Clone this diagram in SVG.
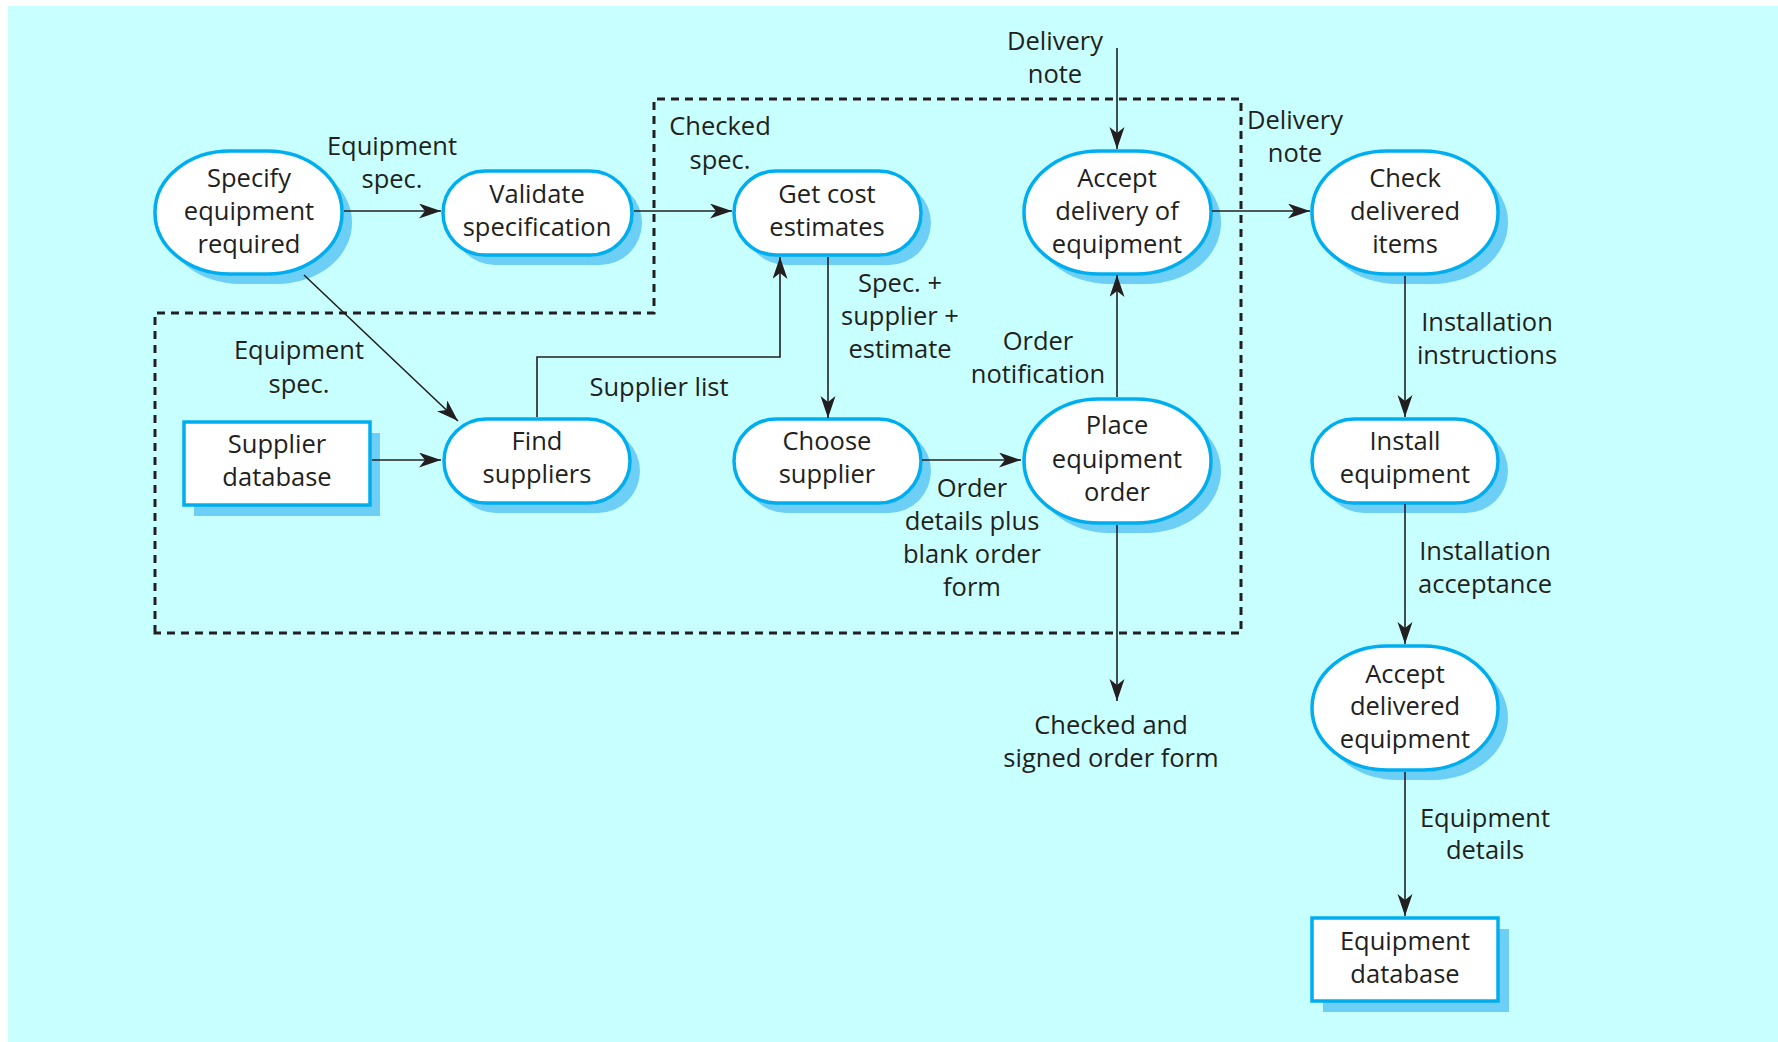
<svg xmlns="http://www.w3.org/2000/svg" width="1778" height="1042" viewBox="0 0 1778 1042">
<defs>
<style>
.bg{fill:#C8FFFF}
.sh{fill:#6DCFF6}
.nd{fill:#FFFFFF;stroke:#00AEEF;stroke-width:3.5}
.t{font-family:"Open Sans","Noto Sans",sans-serif;font-size:25.5px;fill:#231F20;text-anchor:middle}
.c{fill:none;stroke:#231F20;stroke-width:1.6}
.dash{fill:none;stroke:#231F20;stroke-width:3;stroke-dasharray:8 6}
</style>
<marker id="ah" markerUnits="userSpaceOnUse" markerWidth="24" markerHeight="16" refX="22" refY="7.5" orient="auto">
<path d="M0,0 L22,7.5 L0,15 L6,7.5 z" fill="#231F20"/>
</marker>
</defs>
<rect class="bg" x="8" y="6" width="1770" height="1036"/>

<g id="boundary">
<path class="dash" d="M155,633 L155,313 L654,313 L654,99 L1241,99 L1241,633 Z"/>
</g>

<g id="labels">
<text class="t" x="392" y="155">Equipment</text>
<text class="t" x="392" y="188">spec.</text>
<text class="t" x="720" y="135">Checked</text>
<text class="t" x="720" y="169">spec.</text>
<text class="t" x="299" y="359">Equipment</text>
<text class="t" x="299" y="393">spec.</text>
<text class="t" x="659" y="396">Supplier list</text>
<text class="t" x="900" y="292">Spec. +</text>
<text class="t" x="900" y="325">supplier +</text>
<text class="t" x="900" y="358">estimate</text>
<text class="t" x="972" y="497">Order</text>
<text class="t" x="972" y="530">details plus</text>
<text class="t" x="972" y="563">blank order</text>
<text class="t" x="972" y="596">form</text>
<text class="t" x="1038" y="350">Order</text>
<text class="t" x="1038" y="383">notification</text>
<text class="t" x="1055" y="50">Delivery</text>
<text class="t" x="1055" y="83">note</text>
<text class="t" x="1295" y="129">Delivery</text>
<text class="t" x="1295" y="162">note</text>
<text class="t" x="1487" y="331">Installation</text>
<text class="t" x="1487" y="364">instructions</text>
<text class="t" x="1485" y="560">Installation</text>
<text class="t" x="1485" y="593">acceptance</text>
<text class="t" x="1485" y="827">Equipment</text>
<text class="t" x="1485" y="859">details</text>
<text class="t" x="1111" y="734">Checked and</text>
<text class="t" x="1111" y="767">signed order form</text>
</g>

<g id="specify">
<rect class="sh" x="165" y="161" width="187" height="123" rx="75" ry="61"/>
<rect class="nd" x="155" y="151" width="187" height="123" rx="75" ry="61"/>
<text class="t" x="249" y="187">Specify</text>
<text class="t" x="249" y="220">equipment</text>
<text class="t" x="249" y="253">required</text>
</g>

<g id="validate">
<rect class="sh" x="453" y="181" width="189" height="84" rx="42"/>
<rect class="nd" x="443" y="171" width="189" height="84" rx="42"/>
<text class="t" x="537" y="203">Validate</text>
<text class="t" x="537" y="236">specification</text>
</g>

<g id="getcost">
<rect class="sh" x="744" y="181" width="187" height="84" rx="42"/>
<rect class="nd" x="734" y="171" width="187" height="84" rx="42"/>
<text class="t" x="827" y="203">Get cost</text>
<text class="t" x="827" y="236">estimates</text>
</g>

<g id="acceptdelivery">
<rect class="sh" x="1034" y="161" width="187" height="123" rx="75" ry="61"/>
<rect class="nd" x="1024" y="151" width="187" height="123" rx="75" ry="61"/>
<text class="t" x="1117" y="187">Accept</text>
<text class="t" x="1117" y="220">delivery of</text>
<text class="t" x="1117" y="253">equipment</text>
</g>

<g id="check">
<rect class="sh" x="1322" y="161" width="186" height="123" rx="75" ry="61"/>
<rect class="nd" x="1312" y="151" width="186" height="123" rx="75" ry="61"/>
<text class="t" x="1405" y="187">Check</text>
<text class="t" x="1405" y="220">delivered</text>
<text class="t" x="1405" y="253">items</text>
</g>

<g id="supplierdb">
<rect class="sh" x="194" y="433" width="186" height="83"/>
<rect class="nd" x="184" y="422" width="186" height="83"/>
<text class="t" x="277" y="453">Supplier</text>
<text class="t" x="277" y="486">database</text>
</g>

<g id="find">
<rect class="sh" x="454" y="429" width="186" height="84" rx="42"/>
<rect class="nd" x="444" y="419" width="186" height="84" rx="42"/>
<text class="t" x="537" y="450">Find</text>
<text class="t" x="537" y="483">suppliers</text>
</g>

<g id="choose">
<rect class="sh" x="744" y="429" width="187" height="84" rx="42"/>
<rect class="nd" x="734" y="419" width="187" height="84" rx="42"/>
<text class="t" x="827" y="450">Choose</text>
<text class="t" x="827" y="483">supplier</text>
</g>

<g id="place">
<rect class="sh" x="1034" y="409" width="187" height="124" rx="75" ry="62"/>
<rect class="nd" x="1024" y="399" width="187" height="124" rx="75" ry="62"/>
<text class="t" x="1117" y="434">Place</text>
<text class="t" x="1117" y="468">equipment</text>
<text class="t" x="1117" y="501">order</text>
</g>

<g id="install">
<rect class="sh" x="1322" y="429" width="186" height="84" rx="42"/>
<rect class="nd" x="1312" y="419" width="186" height="84" rx="42"/>
<text class="t" x="1405" y="450">Install</text>
<text class="t" x="1405" y="483">equipment</text>
</g>

<g id="acceptdelivered">
<rect class="sh" x="1322" y="656" width="186" height="124" rx="75" ry="62"/>
<rect class="nd" x="1312" y="646" width="186" height="124" rx="75" ry="62"/>
<text class="t" x="1405" y="683">Accept</text>
<text class="t" x="1405" y="715">delivered</text>
<text class="t" x="1405" y="748">equipment</text>
</g>

<g id="equipmentdb">
<rect class="sh" x="1323" y="929" width="186" height="83"/>
<rect class="nd" x="1312" y="918" width="186" height="83"/>
<text class="t" x="1405" y="950">Equipment</text>
<text class="t" x="1405" y="983">database</text>
</g>

<g id="connectors">
<line class="c" x1="344" y1="211" x2="441" y2="211" marker-end="url(#ah)"/>
<line class="c" x1="634" y1="211" x2="732" y2="211" marker-end="url(#ah)"/>
<line class="c" x1="304" y1="275" x2="458" y2="421" marker-end="url(#ah)"/>
<line class="c" x1="372" y1="460" x2="441" y2="460" marker-end="url(#ah)"/>
<polyline class="c" points="537,417 537,357 780,357 780,257" marker-end="url(#ah)"/>
<line class="c" x1="828" y1="257" x2="828" y2="418" marker-end="url(#ah)"/>
<line class="c" x1="922" y1="460" x2="1021" y2="460" marker-end="url(#ah)"/>
<line class="c" x1="1117" y1="397" x2="1117" y2="275" marker-end="url(#ah)"/>
<line class="c" x1="1117" y1="48" x2="1117" y2="149" marker-end="url(#ah)"/>
<line class="c" x1="1212" y1="211" x2="1310" y2="211" marker-end="url(#ah)"/>
<line class="c" x1="1405" y1="276" x2="1405" y2="417" marker-end="url(#ah)"/>
<line class="c" x1="1405" y1="504" x2="1405" y2="644" marker-end="url(#ah)"/>
<line class="c" x1="1405" y1="772" x2="1405" y2="916" marker-end="url(#ah)"/>
<line class="c" x1="1117" y1="525" x2="1117" y2="701" marker-end="url(#ah)"/>
</g>
</svg>
